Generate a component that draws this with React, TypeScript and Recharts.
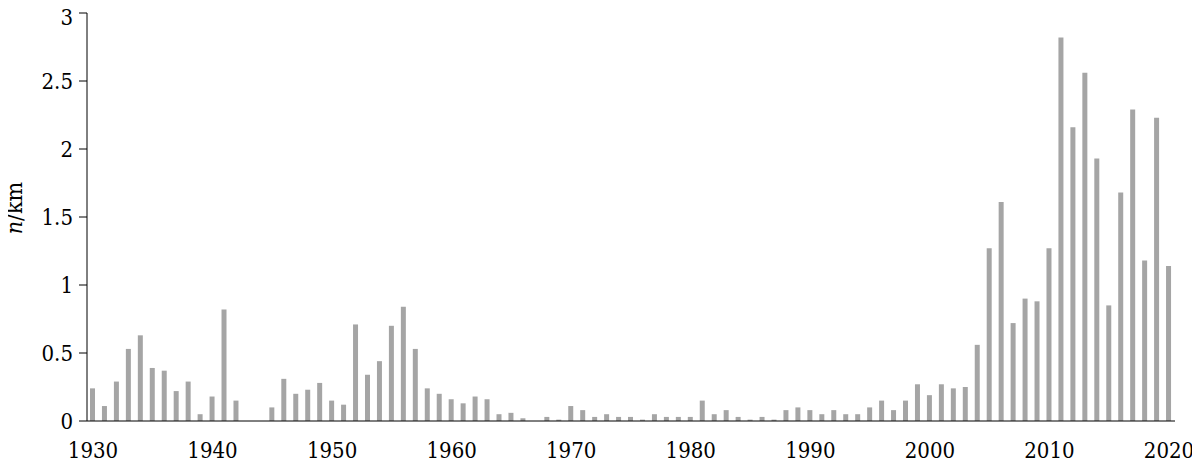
import { BarChart, Bar, XAxis, YAxis, Label } from "recharts"

const years = [
  1930, 1931, 1932, 1933, 1934, 1935, 1936, 1937, 1938, 1939,
  1940, 1941, 1942, 1943, 1944, 1945, 1946, 1947, 1948, 1949,
  1950, 1951, 1952, 1953, 1954, 1955, 1956, 1957, 1958, 1959,
  1960, 1961, 1962, 1963, 1964, 1965, 1966, 1967, 1968, 1969,
  1970, 1971, 1972, 1973, 1974, 1975, 1976, 1977, 1978, 1979,
  1980, 1981, 1982, 1983, 1984, 1985, 1986, 1987, 1988, 1989,
  1990, 1991, 1992, 1993, 1994, 1995, 1996, 1997, 1998, 1999,
  2000, 2001, 2002, 2003, 2004, 2005, 2006, 2007, 2008, 2009,
  2010, 2011, 2012, 2013, 2014, 2015, 2016, 2017, 2018, 2019, 2020,
]

const density = [
  0.24, 0.11, 0.29, 0.53, 0.63, 0.39, 0.37, 0.22, 0.29, 0.05,
  0.18, 0.82, 0.15, 0, 0, 0.1, 0.31, 0.2, 0.23, 0.28,
  0.15, 0.12, 0.71, 0.34, 0.44, 0.7, 0.84, 0.53, 0.24, 0.2,
  0.16, 0.13, 0.18, 0.16, 0.05, 0.06, 0.02, 0, 0.03, 0.01,
  0.11, 0.08, 0.03, 0.05, 0.03, 0.03, 0.01, 0.05, 0.03, 0.03,
  0.03, 0.15, 0.05, 0.08, 0.03, 0.01, 0.03, 0.01, 0.08, 0.1,
  0.08, 0.05, 0.08, 0.05, 0.05, 0.1, 0.15, 0.08, 0.15, 0.27,
  0.19, 0.27, 0.24, 0.25, 0.56, 1.27, 1.61, 0.72, 0.9, 0.88,
  1.27, 2.82, 2.16, 2.56, 1.93, 0.85, 1.68, 2.29, 1.18, 2.23, 1.14,
]

const yTicks = [0, 0.5, 1, 1.5, 2, 2.5, 3]

// boundaries between categories, for the small ticks under the axis
const boundaryTicks = years.map((_, i) => i).concat(years.length)

const data = years.map((year, i) => ({ year, value: density[i] }))

// Liberation Serif doesn't resolve in the renderer, DejaVu Serif does
const FONT = "DejaVu Serif Condensed, DejaVu Serif"

function XTick({ x, y, payload }: any) {
  return (
    <text x={x} y={y} dy="0.71em" textAnchor="middle" fontFamily={FONT} fontSize={22} fill="#000">
      {payload.value}
    </text>
  )
}

function YTick({ x, y, payload }: any) {
  return (
    <text x={x} y={y} dy="0.36em" textAnchor="end" fontFamily={FONT} fontSize={22} fill="#000">
      {payload.value}
    </text>
  )
}

function YTitle(props: any) {
  const { viewBox } = props
  const x = viewBox.x + 14
  const y = viewBox.y + viewBox.height / 2 - 9
  return (
    <text
      x={x}
      y={y}
      transform={`rotate(-90, ${x}, ${y})`}
      textAnchor="middle"
      fontSize={23}
      fill="#000"
      fontFamily={FONT}
    >
      <tspan fontStyle="italic">n</tspan>
      <tspan>/km</tspan>
    </text>
  )
}

export default function App() {
  return (
    <BarChart
      width={1192}
      height={457}
      data={data}
      margin={{ top: 5, right: 25, left: 0, bottom: 4 }}
      barCategoryGap={0}
      style={{ overflow: "visible" }}
    >
      <XAxis
        xAxisId="minor"
        type="number"
        domain={[0, years.length]}
        ticks={boundaryTicks}
        height={0}
        axisLine={false}
        tickLine={{ stroke: "#000", strokeWidth: 1 }}
        tickSize={7}
        tickFormatter={() => ""}
        allowDataOverflow
      />
      <XAxis
        dataKey="year"
        interval={9}
        height={40}
        axisLine={{ stroke: "#000", strokeWidth: 1 }}
        tickLine={false}
        tickSize={8}
        tickMargin={13}
        tick={XTick}
      />
      <YAxis
        width={79}
        domain={[0, 3]}
        ticks={yTicks}
        axisLine={{ stroke: "#000", strokeWidth: 1 }}
        tickLine={{ stroke: "#000", strokeWidth: 1 }}
        tickSize={8}
        tickMargin={6}
        tick={YTick}
      >
        <Label content={YTitle} />
      </YAxis>
      <Bar dataKey="value" fill="#A5A5A5" barSize={5} isAnimationActive={false} />
    </BarChart>
  )
}
